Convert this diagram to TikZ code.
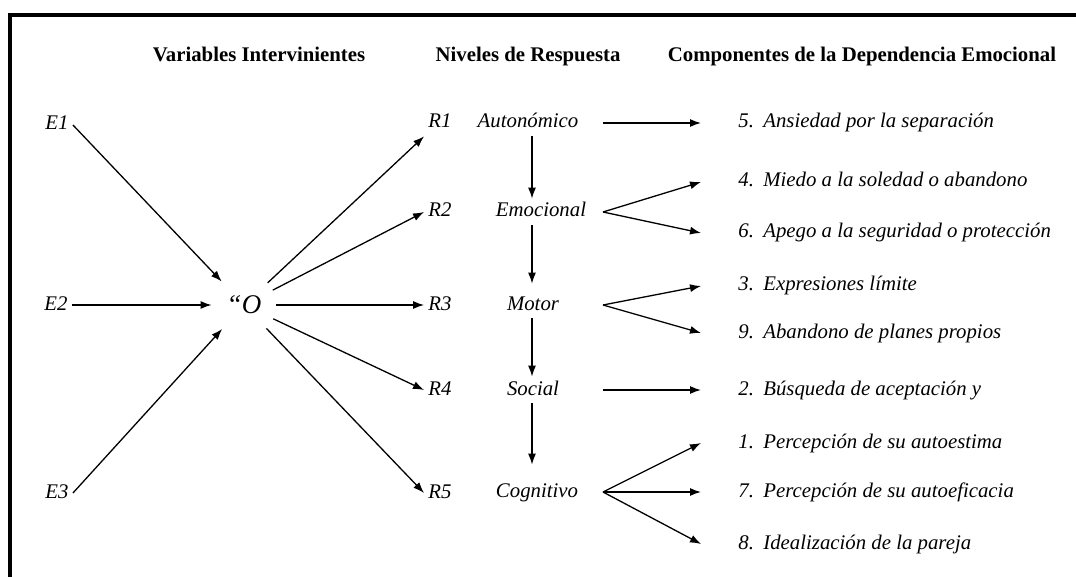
\documentclass[tikz,border=0pt]{standalone}
\usepackage{fontspec}
\setmainfont{Liberation Serif}
\usetikzlibrary{arrows.meta}

\begin{document}
\begin{tikzpicture}[x=0.5pt,y=-0.5pt,
    head/.style={font=\bfseries\fontsize{10.4}{12}\selectfont, text height=7pt, text depth=2pt},
    lbl/.style={font=\itshape\fontsize{10.4}{12}\selectfont, text height=7pt, text depth=2pt, inner sep=2pt},
    comp/.style={lbl, anchor=west},
    arr/.style={-{Latex[length=5.5pt,width=4pt]}, line width=0.65pt}]

    \useasboundingbox (0,0) rectangle (1076,577);

    % Frame
    \draw[line width=1.6pt] (10,577) -- (10,15) -- (1076,15);

    % Headers
    \node[head] (varHead) at (259,57) {Variables Intervinientes};
    \node[head] (nivHead) at (528,57) {Niveles de Respuesta};
    \node[head] (compHead) at (862,57) {Componentes de la Dependencia Emocional};

    % Stimuli
    \node[lbl] (e1) at (57,125) {E1};
    \node[lbl] (e2) at (56,305) {E2};
    \node[lbl] (e3) at (57,493) {E3};

    % Organism
    \node[circle, minimum size=32pt, inner sep=0pt, font=\itshape\fontsize{13.5}{15}\selectfont] (org) at (244,305) {“O};

    % Responses
    \node[lbl] (r1) at (440,123) {R1};
    \node[lbl] (r2) at (440,212) {R2};
    \node[lbl] (r3) at (440,305) {R3};
    \node[lbl] (r4) at (440,390) {R4};
    \node[lbl] (r5) at (440,493) {R5};

    % Levels
    \node[lbl] (auton) at (528,123) {Autonómico};
    \node[lbl] (emoc) at (541,212) {Emocional};
    \node[lbl] (motor) at (533,305) {Motor};
    \node[lbl] (social) at (533,390) {Social};
    \node[lbl] (cogn) at (537,492) {Cognitivo};

    % Components
    \node[comp] (c5) at (734,123) {\makebox[12.5pt][l]{5.}Ansiedad por la separación};
    \node[comp] (c4) at (734,182) {\makebox[12.5pt][l]{4.}Miedo a la soledad o abandono};
    \node[comp] (c6) at (734,233) {\makebox[12.5pt][l]{6.}Apego a la seguridad o protección};
    \node[comp] (c3) at (734,286) {\makebox[12.5pt][l]{3.}Expresiones límite};
    \node[comp] (c9) at (734,333) {\makebox[12.5pt][l]{9.}Abandono de planes propios};
    \node[comp] (c2) at (734,390) {\makebox[12.5pt][l]{2.}Búsqueda de aceptación y};
    \node[comp] (c1) at (734,443) {\makebox[12.5pt][l]{1.}Percepción de su autoestima};
    \node[comp] (c7) at (734,492) {\makebox[12.5pt][l]{7.}Percepción de su autoeficacia};
    \node[comp] (c8) at (734,544) {\makebox[12.5pt][l]{8.}Idealización de la pareja};

    % Guides
    \coordinate (spine) at (532,0);
    \coordinate (forkX) at (603,0);
    \coordinate (tipX) at (701,0);

    % Stimuli to organism
    \draw[arr] (e1.east) -- (org);
    \draw[arr] (e2) -- (org);
    \draw[arr] (e3.east) -- (org);

    % Organism to responses
    \draw[arr] (org) -- (r1.south west);
    \draw[arr] (org) -- (r2.west);
    \draw[arr] (org) -- (r3.west);
    \draw[arr] (org) -- (r4.west);
    \draw[arr] (org) -- (r5.west);

    % Level chain
    \draw[arr] (auton.south -| spine) -- (emoc.north -| spine);
    \draw[arr, shorten >=4pt] (emoc.south -| spine) -- (motor.north -| spine);
    \draw[arr] (motor.south -| spine) -- (social.north -| spine);
    \draw[arr, shorten >=7pt] (social.south -| spine) -- (cogn.north -| spine);

    % Levels to components
    \draw[arr] (auton -| forkX) -- (c5 -| tipX);
    \draw[arr] (emoc -| forkX) -- (c4 -| tipX);
    \draw[arr] (emoc -| forkX) -- (c6 -| tipX);
    \draw[arr] (motor -| forkX) -- (c3 -| tipX);
    \draw[arr] (motor -| forkX) -- (c9 -| tipX);
    \draw[arr] (social -| forkX) -- (c2 -| tipX);
    \draw[arr] (cogn -| forkX) -- (c1 -| tipX);
    \draw[arr] (cogn -| forkX) -- (c7 -| tipX);
    \draw[arr] (cogn -| forkX) -- (c8 -| tipX);

\end{tikzpicture}
\end{document}
